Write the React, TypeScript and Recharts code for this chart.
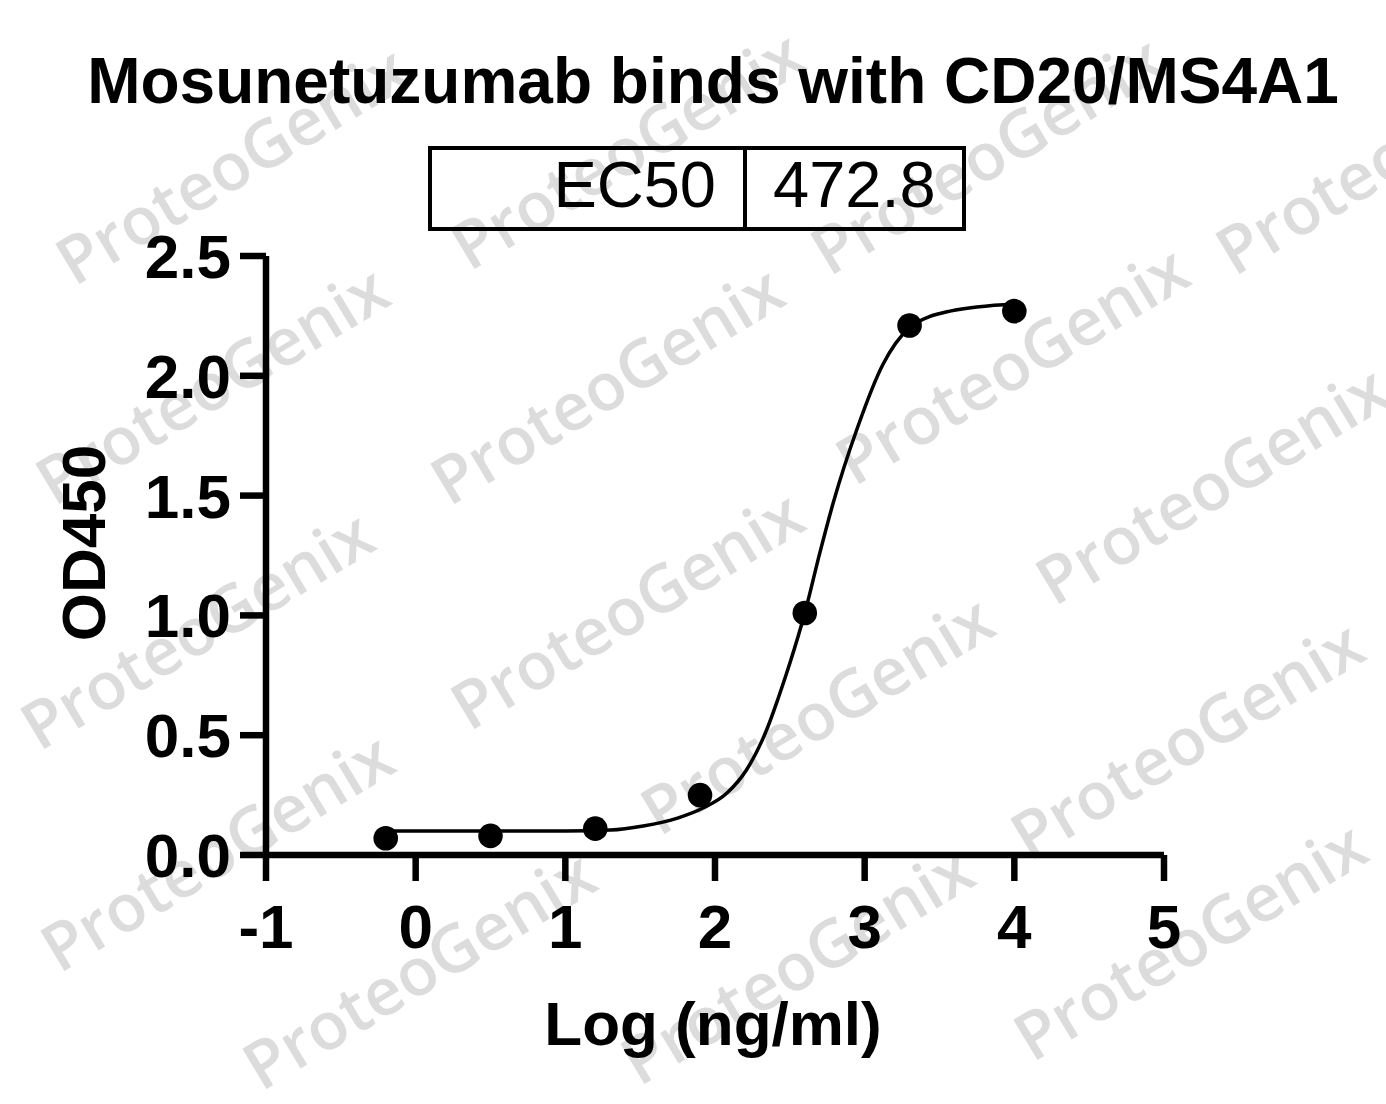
import React from 'react';
import { ComposedChart, Line, Scatter, XAxis, YAxis } from 'recharts';

// axis ticks
const xTicks = [-1, 0, 1, 2, 3, 4, 5];
const yTicks = [0, 0.5, 1, 1.5, 2, 2.5];

// measured points: log concentration vs OD450
const logConc = [-0.2, 0.5, 1.2, 1.9, 2.6, 3.3, 4.0];
const od450 = [0.07, 0.08, 0.11, 0.25, 1.01, 2.21, 2.27];

// fitted curve
const fitX = [-0.2, 0.5, 1.0, 1.3, 1.52, 1.75, 1.92, 2.08, 2.21, 2.35, 2.42, 2.5, 2.6, 2.7, 2.79, 2.95, 3.12, 3.3, 3.57, 4.0];
const fitY = [0.1, 0.1, 0.1, 0.104, 0.121, 0.154, 0.196, 0.259, 0.355, 0.53, 0.65, 0.8, 1.01, 1.26, 1.47, 1.78, 2.045, 2.2, 2.27, 2.3];

const title = 'Mosunetuzumab binds with CD20/MS4A1';
const ec50Label = 'EC50';
const ec50Value = '472.8';
const xLabel = 'Log (ng/ml)';
const yLabel = 'OD450';
const watermark = 'ProteoGenix';

const W = 1386;
const H = 1104;
const FONT = '"Liberation Sans", Arial, Helvetica, sans-serif';

// centres of the faint diagonal watermarks
const marks = [
  [235, 170], [630, 155], [990, 160], [1395, 160],
  [215, 390], [610, 390], [1015, 370], [1215, 490],
  [200, 635], [630, 615], [820, 720], [1190, 745],
  [220, 857], [422, 975], [800, 970], [1193, 946],
];

export default function App() {
  const points = logConc.map((x, i) => ({ x, y: od450[i] }));
  const curve = fitX.map((x, i) => ({ x, fit: fitY[i] }));

  const axisLine = { stroke: '#000', strokeWidth: 6.5 };
  const tickStyle = { fill: '#000', fontSize: 62, fontWeight: 'bold', fontFamily: FONT };

  return (
    <div style={{ position: 'absolute', left: 0, top: 0, width: W, height: H, background: '#fff', overflow: 'hidden' }}>
      <svg width={W} height={H} style={{ position: 'absolute', left: 0, top: 0 }}>
        {marks.map(([cx, cy], i) => (
          <text
            key={i}
            x={cx}
            y={cy}
            textAnchor="middle"
            dominantBaseline="middle"
            transform={`rotate(-31 ${cx} ${cy})`}
            fontFamily='"Open Sans", sans-serif'
            fontWeight={600}
            fontSize={66}
            fill="#dcdcdc"
          >
            {watermark}
          </text>
        ))}
        <text x={713} y={103} textAnchor="middle" fontFamily={FONT} fontWeight="bold" fontSize={64} fill="#000">
          {title}
        </text>
        <rect x={430} y={148} width={534} height={81} fill="none" stroke="#000" strokeWidth={4} />
        <line x1={745} y1={148} x2={745} y2={229} stroke="#000" strokeWidth={4} />
        <text x={716} y={207} textAnchor="end" fontFamily={FONT} fontSize={65} fill="#000">
          {ec50Label}
        </text>
        <text x={773} y={207} fontFamily={FONT} fontSize={65} fill="#000">
          {ec50Value}
        </text>
        <text x={713} y={1045} textAnchor="middle" fontFamily={FONT} fontWeight="bold" fontSize={62} fill="#000">
          {xLabel}
        </text>
        <text
          x={105}
          y={543}
          textAnchor="middle"
          transform="rotate(-90 105 543)"
          fontFamily={FONT}
          fontWeight="bold"
          fontSize={62}
          fill="#000"
        >
          {yLabel}
        </text>
      </svg>
      <div style={{ position: 'absolute', left: 0, top: 0 }}>
        <ComposedChart width={W} height={H} margin={{ top: 256, right: 222, bottom: 149, left: 166 }}>
          <XAxis
            type="number"
            dataKey="x"
            domain={[-1, 5]}
            ticks={xTicks}
            interval={0}
            allowDataOverflow
            axisLine={axisLine}
            tickLine={axisLine}
            tickSize={26}
            tickMargin={23}
            tick={tickStyle}
            height={100}
          />
          <YAxis
            type="number"
            domain={[0, 2.5]}
            ticks={yTicks}
            interval={0}
            allowDataOverflow
            axisLine={axisLine}
            tickLine={axisLine}
            tickSize={26}
            tickMargin={9}
            tick={tickStyle}
            tickFormatter={(v: number) => v.toFixed(1)}
            width={100}
          />
          <Line
            data={curve}
            dataKey="fit"
            type="monotone"
            stroke="#000"
            strokeWidth={3.5}
            dot={false}
            activeDot={false}
            isAnimationActive={false}
          />
          <Scatter
            data={points}
            dataKey="y"
            fill="#000"
            isAnimationActive={false}
            shape={(p: any) => <circle cx={p.cx} cy={p.cy} r={12.3} fill="#000" />}
          />
        </ComposedChart>
      </div>
    </div>
  );
}
